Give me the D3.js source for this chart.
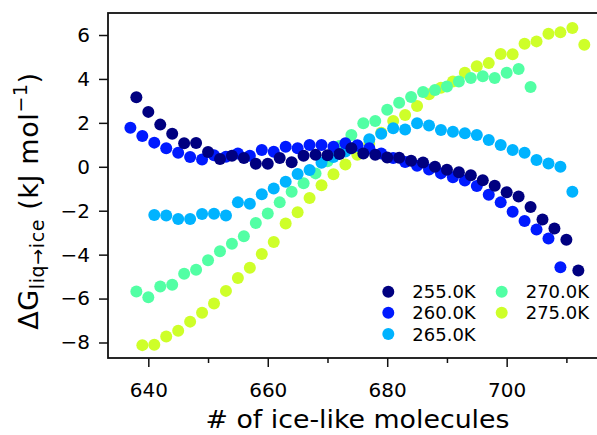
<!DOCTYPE html>
<html>
<head>
<meta charset="utf-8">
<script src="https://cdn.jsdelivr.net/npm/d3@7"></script>
<style>
  body { margin: 0; background: #fff; }
  text { font-family: "DejaVu Sans", sans-serif; fill: #000; }
</style>
</head>
<body>
<svg id="chart" width="597" height="435"></svg>
<script>
// Free energy profiles ΔG(liq→ice) vs. number of ice-like molecules, one series per temperature
const labels = ["255.0K", "260.0K", "265.0K", "270.0K", "275.0K"];
const colors = ["#000080", "#001aff", "#00b3ff", "#52ffa4", "#ceff29"];

const n255 = [638,640,642,644,646,648,650,652,654,656,658,660,662,664,666,668,670,672,674,676,
              678,680,682,684,686,688,690,692,694,696,698,700,702,704,706,708,710,712];
const g255 = [3.17,2.50,1.92,1.50,1.07,1.08,0.67,0.35,0.50,0.40,0.14,0.14,0.40,0.21,0.50,0.55,0.53,0.58,0.84,0.60,
              0.55,0.42,0.41,0.27,0.20,0.00,-0.13,-0.25,-0.38,-0.61,-0.86,-1.16,-1.35,-1.83,-2.40,-2.81,-3.32,-4.72];

const n260 = [637,639,641,643,645,647,649,651,653,655,657,659,661,663,665,667,669,671,673,675,
              677,679,681,683,685,687,689,691,693,695,697,699,701,703,705,707,709];
const g260 = [1.78,1.40,1.10,0.84,0.64,0.45,0.33,0.53,0.46,0.61,0.50,0.76,0.68,0.91,0.84,0.99,0.99,0.91,1.07,0.98,
              0.84,0.60,0.40,0.22,0.05,-0.12,-0.30,-0.48,-0.63,-0.88,-1.27,-1.62,-2.05,-2.47,-2.86,-3.27,-4.57];

const n265 = [641,643,645,647,649,651,653,655,657,659,661,663,665,667,669,671,673,675,677,679,
              681,683,685,687,689,691,693,695,697,699,701,703,705,707,709,711];
const g265 = [-2.19,-2.22,-2.38,-2.38,-2.15,-2.14,-2.22,-1.62,-1.68,-1.25,-0.99,-0.68,-0.33,-0.15,0.18,0.45,0.70,0.95,1.25,1.50,
              1.75,1.70,1.98,1.88,1.68,1.60,1.53,1.45,1.22,0.99,0.76,0.64,0.31,0.15,0.00,-1.14];

const n270 = [638,640,642,644,646,648,650,652,654,656,658,660,662,664,666,668,670,672,674,676,
              678,680,682,684,686,688,690,692,694,696,698,700,702,704];
const g270 = [-5.68,-5.94,-5.45,-5.37,-4.87,-4.69,-4.26,-3.85,-3.50,-3.16,-2.56,-2.13,-1.62,-1.14,-0.75,-0.30,0.25,0.95,1.45,1.98,
              2.08,2.60,2.92,3.18,3.40,3.50,3.66,3.88,4.04,4.12,4.04,4.28,4.45,3.63];

const n275 = [639,641,643,645,647,649,651,653,655,657,659,661,663,665,667,669,671,673,675,677,
              679,681,683,685,687,689,691,693,695,697,699,701,703,705,707,709,711,713];
const g275 = [-8.12,-8.10,-7.73,-7.46,-7.05,-6.65,-6.22,-5.65,-5.06,-4.60,-3.97,-3.42,-2.58,-2.07,-1.42,-0.84,-0.34,0.10,0.55,1.05,
              1.55,2.08,2.36,2.77,3.30,3.60,3.88,4.28,4.58,4.72,5.14,5.12,5.60,5.71,6.06,6.12,6.32,5.56];

const xMajor = [640, 660, 680, 700];
const xMinor = [650, 670, 690, 710];
const yTicks = [-8, -6, -4, -2, 0, 2, 4, 6];

const series = [
  { label: labels[0], color: colors[0], n: n255, g: g255 },
  { label: labels[1], color: colors[1], n: n260, g: g260 },
  { label: labels[2], color: colors[2], n: n265, g: g265 },
  { label: labels[3], color: colors[3], n: n270, g: g270 },
  { label: labels[4], color: colors[4], n: n275, g: g275 }
];

const svg = d3.select("#chart");
const plot = { left: 108, right: 607, top: 13, bottom: 358 };

const x = d3.scaleLinear().domain([633.25, 716.8]).range([plot.left, plot.right]);
const y = d3.scaleLinear().domain([-8.706, 7.002]).range([plot.bottom, plot.top]);

// scatter points: warmest first so the colder series sit on top
const dots = svg.append("g");
series.slice().reverse().forEach(s => {
  dots.append("g")
    .selectAll("circle")
    .data(s.n.map((n, i) => ({ n, g: s.g[i] })))
    .join("circle")
    .attr("cx", d => x(d.n))
    .attr("cy", d => y(d.g))
    .attr("r", 6)
    .attr("fill", s.color);
});

// axes frame
svg.append("rect")
  .attr("x", plot.left).attr("y", plot.top)
  .attr("width", plot.right - plot.left).attr("height", plot.bottom - plot.top)
  .attr("fill", "none").attr("stroke", "#111").attr("stroke-width", 1.8);

const fmt = d => (d < 0 ? "\u2212" + Math.abs(d) : String(d));

svg.append("g")
  .attr("transform", `translate(0,${plot.bottom})`)
  .call(d3.axisBottom(x).tickValues(xMajor).tickSize(9).tickPadding(16).tickFormat(fmt));
svg.append("g")
  .attr("transform", `translate(0,${plot.bottom})`)
  .call(d3.axisBottom(x).tickValues(xMinor).tickSize(5).tickFormat(""));
svg.append("g")
  .attr("transform", `translate(${plot.left},0)`)
  .call(d3.axisLeft(y).tickValues(yTicks).tickSize(9).tickPadding(9).tickFormat(fmt));

svg.selectAll(".domain").remove();
svg.selectAll(".tick line").attr("stroke", "#111").attr("stroke-width", 1.5);
svg.selectAll(".tick text")
  .attr("font-family", "DejaVu Sans, sans-serif")
  .attr("font-size", 20)
  .attr("fill", "#000");

// axis titles
svg.append("text")
  .attr("x", 357.5)
  .attr("y", 428)
  .attr("text-anchor", "middle")
  .attr("font-size", 25)
  .attr("textLength", 304)
  .attr("lengthAdjust", "spacingAndGlyphs")
  .text("# of ice-like molecules");

const yl = svg.append("text")
  .attr("transform", "translate(38,201) rotate(-90)")
  .attr("text-anchor", "middle")
  .attr("font-size", 27)
  .attr("letter-spacing", 0.6);
yl.append("tspan").text("\u0394G");
yl.append("tspan").attr("font-size", 19).attr("dy", 6).text("liq\u2192ice");
yl.append("tspan").attr("dy", -6).text(" (kJ mol");
yl.append("tspan").attr("font-size", 19).attr("dy", -11).text("\u22121");
yl.append("tspan").attr("dy", 11).text(")");

// legend, two columns
const legendPos = [
  [388.3, 291.7], [388.3, 312.7], [388.3, 334],
  [501.7, 291.7], [501.7, 312.7]
];
const legend = svg.append("g");
series.forEach((s, i) => {
  const [lx, ly] = legendPos[i];
  legend.append("circle").attr("cx", lx).attr("cy", ly).attr("r", 6).attr("fill", s.color);
  legend.append("text")
    .attr("x", lx + 24).attr("y", ly + 6.5)
    .attr("font-size", 18)
    .text(s.label);
});
</script>
</body>
</html>
